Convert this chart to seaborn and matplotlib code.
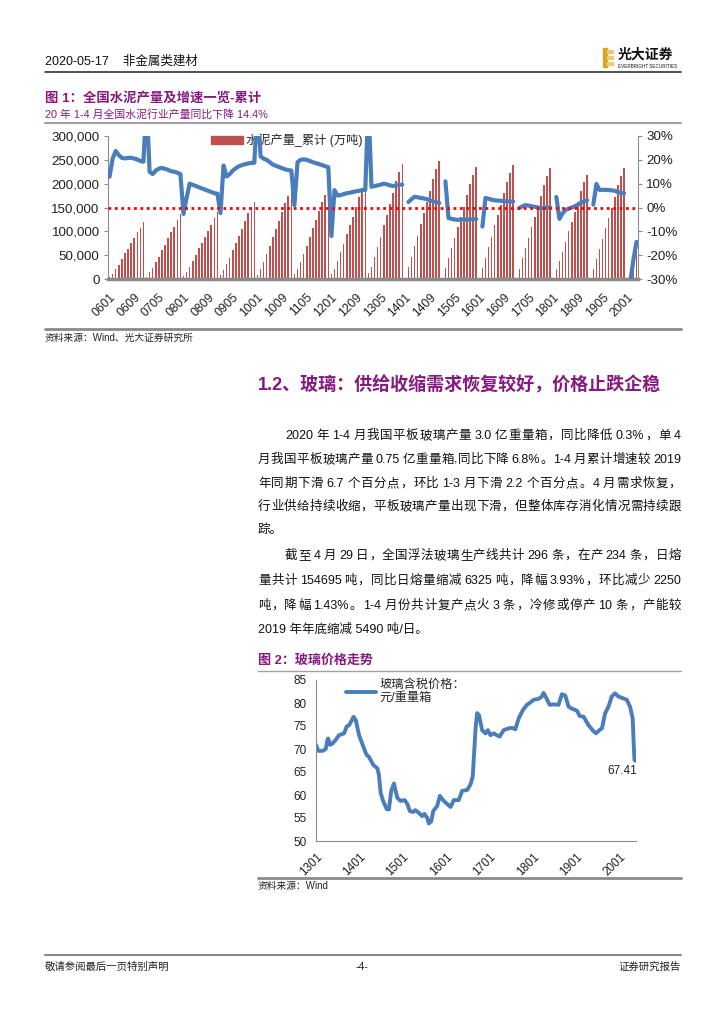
import re
import numpy as np
import pandas as pd
import matplotlib
matplotlib.use("Agg")
import matplotlib.pyplot as plt
import matplotlib.dates as mdates
from matplotlib.patches import Rectangle, Patch
from matplotlib.lines import Line2D
import seaborn as sns

nan = np.nan

# ---- Figure 1: cement output, cumulative (10k t), Jan..Dec per year ----
cement_2006 = [5000, 10500, 20000, 30000, 42000, 55000, 63000, 76000, 87000, 98000, 108000, 120000]
cement_2007 = [5000, 14000, 24000, 35000, 47000, 60000, 72000, 86000, 98000, 110000, 124000, 136000]
cement_2008 = [6000, 14000, 26000, 38000, 51000, 64000, 76000, 88000, 101000, 114000, 127000, 140000]
cement_2009 = [8000, 18000, 31000, 45000, 60000, 76000, 91000, 105000, 122000, 138000, 151000, 162000]
cement_2010 = [9000, 21000, 36000, 52000, 69000, 88000, 105000, 122000, 140000, 159000, 174000, 187000]
cement_2011 = [10000, 21000, 36000, 53000, 70000, 89000, 106000, 124000, 143000, 162000, 177000, 190000]
cement_2012 = [10000, 21000, 38000, 56000, 74000, 94000, 113000, 131000, 151000, 171000, 187000, 201000]
cement_2013 = [12000, 25000, 46000, 67000, 89000, 113000, 135000, 157000, 181000, 205000, 224000, 241000]
cement_2014 = [nan, 25000, 47000, 69000, 91000, 116000, 138000, 161000, 185000, 210000, 230000, 247000]
cement_2015 = [nan, 23000, 44000, 65000, 87000, 110000, 131000, 152000, 176000, 200000, 218000, 235000]
cement_2016 = [nan, 23000, 45000, 67000, 89000, 113000, 134000, 156000, 180000, 204000, 223000, 240000]
cement_2017 = [nan, 22000, 44000, 65000, 86000, 109000, 130000, 151000, 175000, 198000, 216000, 233000]
cement_2018 = [nan, 20000, 38000, 57000, 78000, 100000, 120000, 140000, 162000, 185000, 203000, 218000]
cement_2019 = [nan, 22000, 42000, 62000, 84000, 107000, 128000, 150000, 173000, 198000, 217000, 233000]
cement_2020 = [nan, 16000, 37000, 58000]

# cumulative YoY growth (%), right axis
growth_2006 = [12.9, 20.5, 23.7, 22.0, 20.8, 20.6, 20.8, 20.9, 20.5, 20.2, 19.5, 19.2]
growth_2007 = [45.0, 15.0, 14.0, 15.5, 16.3, 16.6, 16.2, 15.8, 15.2, 15.0, 14.6, 14.0]
growth_2008 = [-2.7, 4.0, 10.0, 9.5, 9.0, 8.5, 8.0, 7.5, 7.0, 6.5, 6.0, 5.8]
growth_2009 = [-2.3, 17.6, 13.0, 14.0, 15.5, 16.5, 17.3, 17.8, 18.2, 18.5, 18.7, 18.8]
growth_2010 = [45.0, 21.5, 20.5, 20.0, 19.0, 18.0, 17.5, 17.0, 16.5, 16.0, 15.7, 15.5]
growth_2011 = [1.0, 19.0, 20.0, 20.2, 20.0, 19.5, 19.0, 18.6, 18.2, 17.8, 17.3, 16.9]
growth_2012 = [-12.0, 7.3, 5.0, 5.2, 5.6, 6.0, 6.2, 6.5, 6.8, 7.0, 7.3, 7.4]
growth_2013 = [45.0, 8.7, 9.0, 9.3, 9.6, 10.0, 9.7, 9.3, 9.0, 9.2, 9.5, 9.6]
growth_2014 = [nan, 2.3, 3.5, 4.5, 4.3, 4.0, 3.8, 3.5, 3.0, 2.6, 2.2, 1.9]
growth_2015 = [nan, 11.0, -4.4, -4.8, -5.0, -5.2, -5.0, -5.0, -5.1, -5.0, -4.9, -4.9]
growth_2016 = [nan, -8.0, 4.0, 3.7, 3.3, 3.0, 2.9, 2.8, 2.7, 2.6, 2.5, 2.5]
growth_2017 = [nan, -0.2, 0.5, 1.0, 0.8, 0.5, 0.3, 0.0, -0.2, -0.2, 0.0, 0.0]
growth_2018 = [nan, 4.4, -4.8, -2.5, -1.0, -0.5, 0.0, 0.5, 1.2, 2.0, 2.6, 3.0]
growth_2019 = [nan, 1.2, 9.9, 7.4, 7.4, 7.4, 7.3, 7.2, 7.0, 6.5, 6.1, 6.0]
growth_2020 = [nan, -31.0, -22.0, -14.4]

cement_years = list(range(2006, 2021))
cement_ticks = ['0601', '0609', '0705', '0801', '0809', '0905', '1001', '1009', '1105', '1201', '1209',
                '1305', '1401', '1409', '1505', '1601', '1609', '1705', '1801', '1809', '1905', '2001']

# ---- Figure 2: glass price (yuan / weight case) ----
glass_dates = ['2013-01-01', '2013-01-20', '2013-02-26', '2013-03-24', '2013-04-07', '2013-04-13',
               '2013-04-29', '2013-05-19', '2013-06-16', '2013-07-13', '2013-08-25', '2013-09-16',
               '2013-10-07', '2013-11-13', '2013-12-01', '2013-12-29', '2014-01-28', '2014-03-02',
               '2014-03-22', '2014-04-28', '2014-06-01', '2014-06-14', '2014-06-28', '2014-07-19',
               '2014-08-19', '2014-09-06', '2014-09-25', '2014-10-18', '2014-11-15', '2014-12-13',
               '2015-01-16', '2015-02-08', '2015-03-01', '2015-03-28', '2015-04-16', '2015-05-16',
               '2015-06-12', '2015-07-01', '2015-07-25', '2015-08-07', '2015-08-28', '2015-09-13',
               '2015-10-16', '2015-11-08', '2015-12-11', '2016-01-10', '2016-02-06', '2016-03-04',
               '2016-04-15', '2016-05-13', '2016-06-25', '2016-07-22', '2016-08-10', '2016-09-03',
               '2016-09-16', '2016-10-01', '2016-10-28', '2016-11-25', '2016-12-15', '2017-01-06',
               '2017-02-03', '2017-03-01', '2017-03-24', '2017-04-27', '2017-06-09', '2017-07-06',
               '2017-08-03', '2017-09-01', '2017-10-06', '2017-11-09', '2017-12-06', '2018-01-04',
               '2018-02-15', '2018-03-13', '2018-03-28', '2018-04-18', '2018-05-18', '2018-06-21',
               '2018-08-01', '2018-08-29', '2018-09-27', '2018-10-24', '2018-11-21', '2019-01-04',
               '2019-01-25', '2019-02-28', '2019-04-09', '2019-05-21', '2019-06-12', '2019-07-10',
               '2019-08-01', '2019-08-28', '2019-09-25', '2019-10-22', '2019-11-19', '2019-12-18',
               '2020-01-28', '2020-02-26', '2020-03-24', '2020-04-15', '2020-04-24', '2020-04-30',
               '2020-05-13']
glass_price = [70.9, 69.6, 69.6, 70.0, 72.0, 72.3,
               70.9, 71.2, 72.0, 73.0, 73.4, 74.9,
               75.2, 77.0, 76.3, 73.0, 70.9, 68.7,
               68.3, 66.5, 65.8, 64.3, 60.5, 58.7,
               56.9, 56.9, 60.9, 62.5, 59.4, 58.7,
               58.9, 58.0, 56.5, 56.3, 56.7, 56.1,
               55.4, 55.9, 55.0, 53.8, 54.3, 56.5,
               57.6, 59.8, 58.7, 58.0, 57.4, 58.9,
               58.9, 60.9, 61.1, 62.3, 64.0, 74.5,
               77.8, 77.4, 74.1, 73.4, 74.1, 73.0,
               73.4, 73.0, 72.7, 74.1, 74.5, 74.6,
               74.3, 76.7, 78.5, 79.6, 80.1, 80.7,
               80.9, 81.4, 82.2, 81.2, 79.6, 79.7,
               79.6, 81.9, 81.6, 79.2, 78.8, 78.3,
               77.2, 77.0, 75.2, 73.9, 73.4, 74.1,
               74.5, 77.8, 79.2, 81.4, 82.1, 81.4,
               81.0, 80.7, 79.2, 76.7, 70.9, 67.6,
               67.41]

# ------------------------------------------------------------------
sns.set_theme(style="white")
plt.rcParams['font.family'] = ['Liberation Sans', 'Noto Sans CJK SC', 'DejaVu Sans']
plt.rcParams['axes.unicode_minus'] = False

W, H = 724, 1024
fig = plt.figure(figsize=(W / 100, H / 100), dpi=100)
renderer = fig.canvas.get_renderer()

PURPLE = '#86197F'
RED = '#C0504D'
BLUE = '#4A7EBB'
GRAY = '#8C8C8C'
RIGHT = 681          # right page margin (px)
BODY = 9.0           # body text size


def fx(px):
    return px / W


def fy(py):
    return 1 - py / H


def box(l, t, r, b):
    return [l / W, 1 - b / H, (r - l) / W, (b - t) / H]


def hline(y, x0, x1, color=GRAY, lw=1.0):
    fig.add_artist(Line2D([fx(x0), fx(x1)], [fy(y), fy(y)], color=color, lw=lw))


def justify(line, x0, x1, y, size=BODY):
    # spread tokens so the line fills x0..x1, like the justified report text
    tokens = re.findall(r'[0-9A-Za-z.%/,\-]+| |.', line)
    items = []
    for tok in tokens:
        if tok == ' ':
            items.append((None, 2.0))
            continue
        t = fig.text(0, fy(y), tok, fontsize=size, va='center', ha='left', color='#111111')
        items.append((t, t.get_window_extent(renderer).width))
    gap = max(0, (x1 - x0 - sum(w for _, w in items)) / (len(items) - 1))
    x = x0
    for t, w in items:
        if t is not None:
            t.set_x(fx(x))
        x += w + gap


# ---- page header ----
fig.text(fx(45), fy(62), '2020-05-17    非金属类建材', fontsize=9, va='center', color='#111111')
hline(72, 45, RIGHT, color='#333333', lw=1.2)
fig.add_artist(Rectangle((fx(603), fy(67)), 4 / W, 19 / H, color='#D9A425', transform=fig.transFigure))
for yy in [49, 55, 61]:
    fig.add_artist(Rectangle((fx(607), fy(yy + 4)), 6 / W, 3.5 / H, color='#EBCB78',
                             transform=fig.transFigure))
fig.text(fx(618), fy(55), '光大证券', fontsize=10, fontweight='bold', va='center', color='#111111')
fig.text(fx(618), fy(66), 'EVERBRIGHT SECURITIES', fontsize=3.3, va='center', color='#111111')

# ---- figure 1 titles ----
fig.text(fx(45), fy(98), '图 1：全国水泥产量及增速一览-累计', fontsize=9.6, fontweight='bold',
         va='center', color=PURPLE)
fig.text(fx(45), fy(114), '20 年 1-4 月全国水泥行业产量同比下降 14.4%', fontsize=7.8,
         va='center', color=PURPLE)
hline(123, 45, RIGHT, color='#A0A0A0', lw=1.5)

# ---- figure 1 chart ----
cement = sum([globals()[f'cement_{y}'] for y in cement_years], [])
growth = sum([globals()[f'growth_{y}'] for y in cement_years], [])
months = [f'{y % 100:02d}{m:02d}' for y in cement_years for m in range(1, 13)][:len(cement)]
n = len(cement)
df1 = pd.DataFrame({'month': months, 'output': cement}).fillna(0)

ax1 = fig.add_axes(box(108, 136, 638, 279))
sns.barplot(data=df1, x='month', y='output', color=RED, width=0.5, errorbar=None,
            saturation=1, linewidth=0, edgecolor='none', ax=ax1)
ax1.set_xlim(-0.5, n - 0.5)
ax1.set_ylim(0, 300000)
ax1.set_yticks(range(0, 300001, 50000))
ax1.set_yticklabels([f'{v:,}' for v in range(0, 300001, 50000)], fontsize=9.6, color='#222222')
ax1.set_xticks([months.index(t) for t in cement_ticks])
ax1.set_xticklabels(cement_ticks, rotation=45, ha='right', rotation_mode='anchor',
                    fontsize=8.8, color='#222222')
ax1.set_xticks(range(n), minor=True)
ax1.tick_params(axis='x', which='both', direction='in', length=3, width=0.8, color='black', pad=9)
ax1.tick_params(axis='y', direction='out', length=3, width=0.8, color=GRAY, pad=3)
ax1.set_xlabel('')
ax1.set_ylabel('')
for s in ['top', 'right']:
    ax1.spines[s].set_visible(False)
ax1.spines['left'].set_color(GRAY)
ax1.spines['left'].set_linewidth(0.8)
ax1.spines['bottom'].set_color('#8A8A8A')
ax1.spines['bottom'].set_linewidth(2.5)
ax1.legend(handles=[Patch(color=RED, label='水泥产量_累计 (万吨)')], loc='upper left',
           bbox_to_anchor=(0.185, 1.05), frameon=False, fontsize=8.8, handlelength=2.6,
           handleheight=0.6, borderaxespad=0, handletextpad=0.3)

ax2 = ax1.twinx()
ax2.plot(range(n), growth, color=BLUE, lw=3.0, solid_capstyle='round', solid_joinstyle='round')
ax2.axhline(0, color='#FF0000', ls=(0, (1, 1.3)), lw=2.0)
ax2.set_ylim(-30, 30)
ax2.set_yticks(range(-30, 31, 10))
ax2.set_yticklabels([f'{v}%' for v in range(-30, 31, 10)], fontsize=9.6, color='#222222')
ax2.tick_params(axis='y', direction='out', length=3, width=0.8, color=GRAY, pad=3)
for s in ['top', 'left', 'bottom']:
    ax2.spines[s].set_visible(False)
ax2.spines['right'].set_color(GRAY)
ax2.spines['right'].set_linewidth(0.8)

hline(329, 45, RIGHT, color='#8A8A8A', lw=2.0)
fig.text(fx(45), fy(338), '资料来源：Wind、光大证券研究所', fontsize=7, va='center', color='#222222')

# ---- section 1.2 text ----
fig.text(fx(258), fy(385), '1.2、玻璃：供给收缩需求恢复较好，价格止跌企稳', fontsize=13,
         fontweight='bold', va='center', color=PURPLE)
justify('2020 年 1-4 月我国平板玻璃产量 3.0 亿重量箱，同比降低 0.3%，单 4', 285, RIGHT, 436)
justify('月我国平板玻璃产量 0.75 亿重量箱,同比下降 6.8%。1-4 月累计增速较 2019', 258, RIGHT, 460)
justify('年同期下滑 6.7 个百分点，环比 1-3 月下滑 2.2 个百分点。4 月需求恢复，', 258, RIGHT, 484)
justify('行业供给持续收缩，平板玻璃产量出现下滑，但整体库存消化情况需持续跟', 258, RIGHT, 507)
fig.text(fx(258), fy(530), '踪。', fontsize=BODY, va='center', color='#111111')
justify('截至 4 月 29 日，全国浮法玻璃生产线共计 296 条，在产 234 条，日熔', 285, RIGHT, 556)
justify('量共计 154695 吨，同比日熔量缩减 6325 吨，降幅 3.93%，环比减少 2250', 258, RIGHT, 581)
justify('吨，降幅 1.43%。1-4 月份共计复产点火 3 条，冷修或停产 10 条，产能较', 258, RIGHT, 606)
fig.text(fx(258), fy(630), '2019 年年底缩减 5490 吨/日。', fontsize=BODY, va='center', color='#111111')

# ---- figure 2 ----
fig.text(fx(258), fy(661), '图 2：玻璃价格走势', fontsize=9.4, fontweight='bold', va='center', color=PURPLE)
hline(671, 258, RIGHT, color='#A0A0A0', lw=1.0)

df2 = pd.DataFrame({'date': pd.to_datetime(glass_dates), 'price': glass_price})
ax3 = fig.add_axes(box(316, 680, 636, 841))
sns.lineplot(data=df2, x='date', y='price', color=BLUE, lw=2.8, ax=ax3,
             label='玻璃含税价格：\n元/重量箱')
ax3.set_ylim(50, 85)
ax3.set_yticks(range(50, 86, 5))
ax3.set_xlim(pd.Timestamp('2013-01-01'), pd.Timestamp('2020-05-13'))
ax3.xaxis.set_major_locator(mdates.YearLocator())
ax3.xaxis.set_major_formatter(mdates.DateFormatter('%y%m'))
plt.setp(ax3.get_xticklabels(), rotation=45, ha='right', rotation_mode='anchor', fontsize=8.5,
         color='#222222')
plt.setp(ax3.get_yticklabels(), fontsize=8.5, color='#222222')
ax3.tick_params(axis='x', direction='out', length=4, width=0.8, color=GRAY, pad=3)
ax3.tick_params(axis='y', direction='out', length=3, width=0.8, color=GRAY, pad=4)
ax3.set_xlabel('')
ax3.set_ylabel('')
for s in ['top', 'right']:
    ax3.spines[s].set_visible(False)
for s in ['left', 'bottom']:
    ax3.spines[s].set_color(GRAY)
    ax3.spines[s].set_linewidth(0.8)
ax3.legend(loc='upper left', bbox_to_anchor=(0.08, 1.04), frameon=False, fontsize=8.8,
           handlelength=2.4, borderaxespad=0, handletextpad=0.3)
ax3.text(pd.Timestamp('2020-05-20'), 65.2, f'{glass_price[-1]:.2f}', ha='right', va='center',
         fontsize=8.5, color='#222222')

hline(878, 258, RIGHT, color='#8A8A8A', lw=2.0)
fig.text(fx(258), fy(886), '资料来源：Wind', fontsize=7, va='center', color='#222222')

# ---- footer ----
hline(955, 45, RIGHT, color='#8A8A8A', lw=1.5)
fig.text(fx(45), fy(967), '敬请参阅最后一页特别声明', fontsize=7.5, va='center', color='#222222')
fig.text(fx(362), fy(967), '-4-', fontsize=7.5, va='center', ha='center', color='#222222')
fig.text(fx(RIGHT), fy(967), '证券研究报告', fontsize=7.5, va='center', ha='right', color='#222222')

fig.savefig('out.png', dpi=100)
